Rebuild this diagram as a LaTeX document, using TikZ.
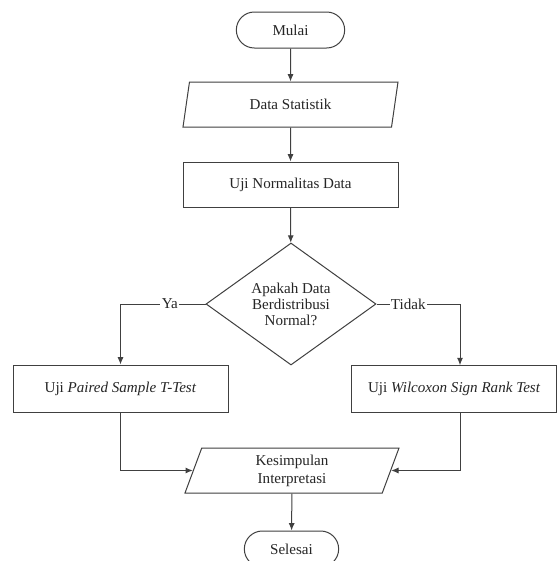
\documentclass[tikz,border=0pt]{standalone}
\usepackage{fontspec}
\setmainfont{Liberation Serif}
\usetikzlibrary{shapes.geometric,shapes.misc,arrows.meta}
\begin{document}
\begin{tikzpicture}[x=0.75pt,y=-0.75pt,
  every node/.style={font=\fontsize{11.3}{13}\selectfont, text=black!85},
  base/.style={draw=black!75, line width=0.75pt, inner sep=1pt, align=center},
  term/.style={base, rounded rectangle, minimum width=83.25pt, minimum height=27pt},
  io/.style={base, trapezium, trapezium left angle=64, trapezium right angle=116,
    trapezium stretches body=true, minimum width=161.25pt, minimum height=33.75pt},
  proc/.style={base, rectangle, minimum height=34.5pt},
  decision/.style={base, diamond, minimum width=127.5pt, minimum height=91.5pt, inner sep=0pt},
  conn/.style={draw=black!75, line width=0.75pt, -{Latex[length=5.5pt,width=4.5pt]}},
  lbl/.style={fill=white, inner sep=1pt}
]
\clip (0,0) rectangle (558,561);
\fill[white] (0,0) rectangle (558,561);

\node[term] (mulai) at (290.5,30) {Mulai};
\node[io] (data) at (290.5,104.5) {Data Statistik};
\node[proc, minimum width=161.25pt, minimum height=33.75pt] (norm) at (290.5,184.5) {Uji Normalitas Data};
\node[decision, font=\fontsize{11.3}{12}\selectfont] (dec) at (291,304) {Apakah Data\\Berdistribusi\\Normal?};
\node[proc, minimum width=161.25pt, minimum height=35.25pt] (paired) at (120.5,388.5) {Uji \textit{Paired Sample T-Test}};
\node[proc, minimum width=153.4pt, minimum height=35pt] (wilc) at (454.2,389) {Uji \textit{Wilcoxon Sign Rank Test}};
\node[io, minimum width=160.5pt, font=\fontsize{11.3}{13.5}\selectfont] (kes) at (292,470.5) {Kesimpulan\\Interpretasi};
\node[term, minimum width=72.75pt] (selesai) at (291.5,549) {Selesai};

\coordinate (tj) at (460,304);

\draw[conn] (mulai) -- (data);
\draw[conn] (data) -- (norm);
\draw[conn] (norm) -- (dec);
\draw[conn] (dec.west) -| node[lbl, pos=0.21] {Ya} (paired.north);
\draw[conn] (dec.east) -- node[lbl, pos=0.38] {Tidak} (tj) -- (tj |- wilc.north);
\draw[conn] (paired.south) |- (kes);
\draw[conn] (tj |- wilc.south) |- (kes);
\draw[conn] (kes) -- (selesai);
\end{tikzpicture}
\end{document}
